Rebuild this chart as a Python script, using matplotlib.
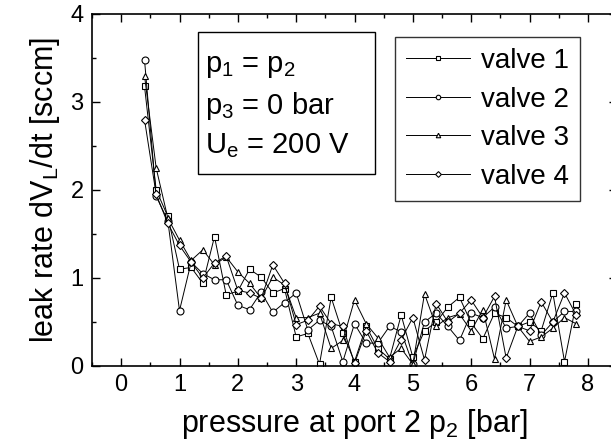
import matplotlib
matplotlib.use('Agg')
import matplotlib.pyplot as plt
from matplotlib.patches import Rectangle
from matplotlib.ticker import MultipleLocator

plt.rcParams['font.family'] = ['Liberation Sans', 'DejaVu Sans']
plt.rcParams['mathtext.fontset'] = 'custom'
plt.rcParams['mathtext.rm'] = 'Liberation Sans'
plt.rcParams['mathtext.it'] = 'Liberation Sans'

# ----------------
# DATA
# ----------------

pressure = [0.4, 0.6, 0.8, 1.0, 1.2, 1.4, 1.6, 1.8, 2.0, 2.2, 2.4, 2.6, 2.8,
            3.0, 3.2, 3.4, 3.6, 3.8, 4.0, 4.2, 4.4, 4.6, 4.8, 5.0, 5.2, 5.4,
            5.6, 5.8, 6.0, 6.2, 6.4, 6.6, 6.8, 7.0, 7.2, 7.4, 7.6, 7.8]

valve1 = [3.18, 2.00, 1.70, 1.10, 1.12, 0.94, 1.47, 0.81, 0.85, 1.10, 1.01,
          0.83, 0.88, 0.33, 0.37, 0.02, 0.78, 0.37, 0.05, 0.45, 0.20, 0.08,
          0.58, 0.10, 0.40, 0.50, 0.67, 0.78, 0.49, 0.31, 0.60, 0.55, 0.45,
          0.50, 0.40, 0.83, 0.05, 0.71]
valve2 = [3.48, 1.93, 1.65, 0.63, 1.18, 1.05, 0.98, 0.98, 0.69, 0.64, 0.84,
          0.61, 0.72, 0.83, 0.41, 0.52, 0.45, 0.05, 0.48, 0.26, 0.26, 0.45,
          0.39, 0.02, 0.50, 0.60, 0.45, 0.29, 0.60, 0.55, 0.67, 0.43, 0.45,
          0.60, 0.35, 0.50, 0.62, 0.62]
valve3 = [3.30, 2.25, 1.68, 1.43, 1.20, 1.32, 1.15, 1.24, 1.07, 0.94, 0.77,
          1.01, 0.92, 0.55, 0.55, 0.60, 0.20, 0.29, 0.75, 0.48, 0.32, 0.10,
          0.20, 0.02, 0.82, 0.45, 0.55, 0.59, 0.40, 0.64, 0.08, 0.75, 0.45,
          0.28, 0.33, 0.43, 0.55, 0.48]
valve4 = [2.80, 1.95, 1.62, 1.37, 1.18, 1.00, 1.17, 1.25, 0.86, 0.83, 0.77,
          1.15, 0.94, 0.47, 0.52, 0.68, 0.48, 0.45, 0.03, 0.40, 0.15, 0.05,
          0.30, 0.55, 0.07, 0.71, 0.50, 0.60, 0.75, 0.55, 0.79, 0.09, 0.45,
          0.40, 0.73, 0.50, 0.83, 0.58]

series = [('valve 1', valve1, 's'),
          ('valve 2', valve2, 'o'),
          ('valve 3', valve3, '^'),
          ('valve 4', valve4, 'D')]

# ----------------
# FIGURE
# ----------------

fig = plt.figure(figsize=(6.11, 4.47), dpi=100)
ax = fig.add_axes([92 / 611, 81 / 447, (617 - 92) / 611, (366 - 14) / 447])

for name, vals, mk in series:
    ms = 4.5 if mk == 'D' else 5
    ax.plot(pressure, vals, color='black', lw=0.7, marker=mk, ms=ms,
            mfc='white', mec='black', mew=0.8, label=name)

ax.set_xlim(-0.5, 8.5)
ax.set_ylim(0, 4)
ax.xaxis.set_major_locator(MultipleLocator(1))
ax.xaxis.set_minor_locator(MultipleLocator(0.5))
ax.yaxis.set_major_locator(MultipleLocator(1))
ax.yaxis.set_minor_locator(MultipleLocator(0.5))
ax.tick_params(which='both', direction='in', top=True, right=True,
               labelsize=17, width=1)
ax.tick_params(which='major', length=6, pad=6)
ax.tick_params(which='minor', length=3)
for sp in ax.spines.values():
    sp.set_linewidth(1.2)

ax.set_xlabel('pressure at port 2 p$_2$ [bar]', fontsize=22, labelpad=8)
ax.set_ylabel('leak rate dV$_L$/dt [sccm]', fontsize=22, labelpad=6)

leg = ax.legend(loc='upper left', bbox_to_anchor=(395 / 611, 1 - 37 / 447),
                bbox_transform=fig.transFigure, fontsize=20, frameon=True,
                fancybox=False, edgecolor='black', handlelength=2.3,
                handletextpad=0.4, labelspacing=0.45, borderpad=0.4,
                markerscale=0.65, borderaxespad=0)
leg.get_frame().set_linewidth(1.0)

# condition box
fig.patches.append(Rectangle((198 / 611, 1 - 174 / 447), (375 - 198) / 611,
                             (174 - 32) / 447, transform=fig.transFigure,
                             fill=False, ec='black', lw=1.0))
cond = ['p$_1$ = p$_2$', 'p$_3$ = 0 bar', 'U$_e$ = 200 V']
for i, line in enumerate(cond):
    fig.text(205 / 611, 1 - (66 + 40 * i) / 447, line, fontsize=21,
             va='center', ha='left')

fig.savefig('out.png', dpi=100)
plt.close(fig)
